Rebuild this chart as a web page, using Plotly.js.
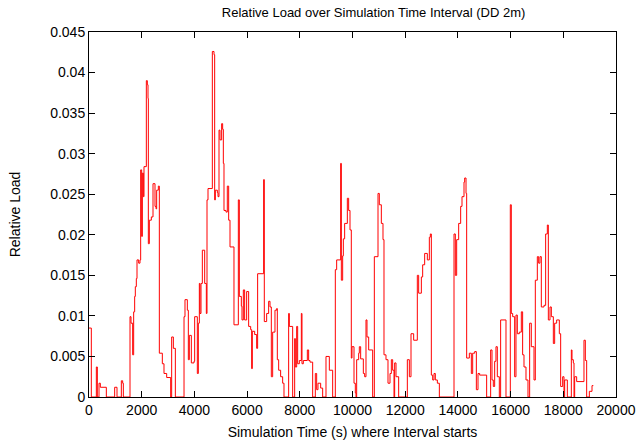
<!DOCTYPE html>
<html>
<head>
<meta charset="utf-8">
<script src="https://cdn.plot.ly/plotly-3.0.1.min.js"></script>
<style>html,body{margin:0;padding:0;background:#fff;}#chart{width:640px;height:446px;}</style>
</head>
<body>
<div id="chart"></div>
<script>
// Interval start times (s) and relative load (value holds until next start)
const times = [
 0,88,278,316,380,430,658,974,1063,1227,1278,1303,1556,1594,1657,1695,1733,1758,1796,1822,1885,1935,1961,1999,2024,2062,2087,2176,2214,2239,2252,2290,2366,2429,
 2467,2505,2543,2568,2631,2669,2783,2846,2948,3100,3137,3201,3277,3606,3643,3732,3770,3808,3884,3985,4010,4111,4149,4187,4213,4251,4301,4390,4453,4478,4516,4681,4744,4769,4795,4871,4896,4934,
 4971,5034,5072,5098,5123,5199,5249,5300,5351,5502,5667,5705,5781,5806,5857,5907,5983,6059,6135,6173,6198,6287,6363,6400,6628,6653,6742,6818,6869,6919,6970,7058,7122,7147,7198,7273,7349,7400,
 7577,7603,7729,7805,7830,7881,7919,7982,8058,8083,8134,8286,8336,8387,8488,8589,8640,8690,8792,8868,8994,9121,9247,9348,9399,9551,9576,9627,9652,9702,9804,9854,9905,9955,
 9981,10057,10107,10133,10158,10234,10259,10310,10411,10462,10512,10550,10614,10765,10829,10968,11018,11094,11157,11195,11271,11347,11423,11474,11524,11575,11600,11651,11752,12081,12157,12220,12321,12460,
 12511,12613,12663,12739,12840,12916,12954,12992,13043,13093,13144,13220,13296,13852,13903,13953,14029,14105,14156,14232,14257,14308,14333,14434,14510,14561,14637,14700,14763,14826,
 15091,15243,15294,15344,15395,15445,15496,15572,15622,15825,15989,16027,16078,16154,16204,16255,16331,16407,16457,16508,16584,16660,16723,16786,16888,16938,17014,17065,17115,17166,17267,17330,17394,17432,17495,
 17546,17622,17672,17748,17849,17900,17976,18026,18052,18153,18305,18330,18381,18406,18431,18507,18785,18836,18887,18988,19089,19140
];
const load = [
 0.0085,0,0.0037,0,0.0017,0.0012,0,0.0012,0,0.002,0.0017,0,0.0099,0.0091,0.0052,0.0105,0.0124,0.0136,0.0146,0.0169,0.0165,0.0169,0.028,0.0198,0.0276,0.0247,0.0284,0.039,0.0385,0.0368,0.0189,0.0218,0.0222,0.0263,
 0.0263,0.0235,0.0232,0.0255,0.026,0.0054,0.0041,0.0029,0.0024,0,0.0074,0.006,0,0.0099,0.012,0.0107,0.0046,0.0076,0.0042,0.0044,0.0099,0.0029,0.0091,0.014,0.0103,0.014,0.0181,0.014,0.0103,0.0243,0.0257,0.0426,0.0422,0.0243,0.0255,0.0252,0.0247,0.0329,
 0.0317,0.0337,0.033,0.0288,0.023,0.0228,0.026,0.0218,0.0185,0.0089,0.0243,0.0124,0.0112,0.0095,0.0132,0.0095,0.013,0.0087,0.0083,0.0035,0.0081,0.0077,0.006,0.0152,0.0268,0.0093,0.0103,0.0118,0.0111,0.0025,0.008,0.0107,0.0109,0.0046,0.0033,0.0025,0.0017,0,
 0.0103,0.0087,0,0.0072,0.0037,0.0087,0.0041,0.0045,0.0103,0.0041,0.0045,0.0058,0.0045,0.0043,0,0.0029,0.0009,0.0017,0.0011,0,0.005,0.0033,0,0.0157,0.0169,0.0288,0.0144,0.0174,0.0195,0.0214,0.0245,0.023,0.0206,0.0048,
 0.0062,0.0017,0.0005,0,0.0046,0.0054,0.0062,0.0047,0.0029,0.0025,0.0095,0.0074,0.0058,0,0.0173,0.0251,0.0237,0.0214,0.0194,0.0052,0.0046,0.0017,0.0029,0.0046,0.0033,0,0.0042,0.0025,0,0.0046,0.0025,0.0078,0.007,0.015,
 0.0128,0.0148,0.0163,0.0177,0.0169,0.0197,0.0201,0.0027,0.0021,0.0029,0.0021,0.0017,0,0.0201,0.015,0.0194,0.0214,0.0235,0.0247,0.0265,0.027,0.0251,0.0048,0.0054,0.0029,0.0054,0.0056,0.0009,0.0029,0.0027,
 0,0.0058,0.0021,0.0013,0.0044,0.0062,0.0025,0,0.0095,0,0.0237,0.0103,0.0099,0.0025,0.0101,0.0078,0.008,0.0105,0.0052,0.0037,0.0021,0,0.0091,0.0062,0.0021,0.0144,0.0173,0.0165,0.0173,0.0111,0.0113,0.0201,0.0212,0.0095,0.0111,
 0.0099,0.0066,0.0091,0.0095,0.0078,0.0013,0.0025,0,0.0021,0,0.0058,0.0046,0.0042,0,0.0025,0.0019,0.007,0.0045,0,0.0007,0.0014,0.0014
];
const xTicks = [0,2000,4000,6000,8000,10000,12000,14000,16000,18000,20000];
const xTickText = ["0","2000","4000","6000","8000","10000","12000","14000","16000","18000","20000"];
const yTicks = [0,0.005,0.01,0.015,0.02,0.025,0.03,0.035,0.04,0.045];
const yTickText = ["0","0.005","0.01","0.015","0.02","0.025","0.03","0.035","0.04","0.045"];

const fam = "Liberation Sans, Arial, Helvetica, sans-serif";
const tickFont = {family: fam, size: 14, color: "#000"};
const labelFont = {family: fam, size: 14, color: "#000"};
const titleFont = {family: fam, size: 13, color: "#000"};
const trace = {
  x: times, y: load, type: "scatter", mode: "lines",
  line: {color: "#ff0000", width: 1, shape: "hv"},
  hoverinfo: "skip"
};
const axisCommon = {
  showline: true, mirror: "ticks", linecolor: "#000", linewidth: 1,
  ticks: "inside", ticklen: 6, tickcolor: "#000", tickwidth: 1,
  showgrid: false, zeroline: false, tickfont: tickFont, tickmode: "array"
};
const layout = {
  width: 640, height: 446,
  margin: {l: 89, r: 24, t: 32, b: 49},
  paper_bgcolor: "#fff", plot_bgcolor: "#fff",
  font: tickFont,
  showlegend: false,
  title: {text: "Relative Load over Simulation Time Interval (DD 2m)", font: titleFont, x: 0.54, xanchor: "center", y: 0.973, yanchor: "middle", xref: "paper"},
  xaxis: Object.assign({}, axisCommon, {range: [0, 20000], tickvals: xTicks, ticktext: xTickText,
    title: {text: "Simulation Time (s) where Interval starts", font: labelFont, standoff: 10}}),
  yaxis: Object.assign({}, axisCommon, {range: [0, 0.045], tickvals: yTicks, ticktext: yTickText,
    title: {text: "Relative Load", font: labelFont, standoff: 26}})
};
Plotly.newPlot("chart", [trace], layout, {staticPlot: true, displayModeBar: false});
</script>
</body>
</html>
